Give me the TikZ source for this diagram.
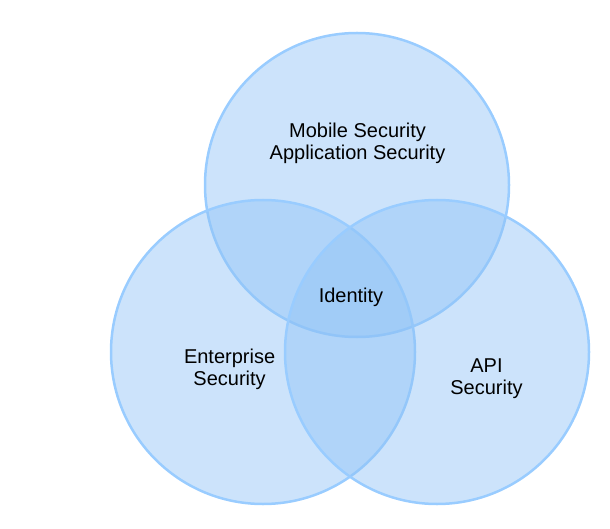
\documentclass[tikz,border=0pt]{standalone}
\usepackage{fontspec}
\setmainfont{Liberation Sans}
\definecolor{vfill}{RGB}{142,194,246}
\definecolor{vline}{RGB}{153,204,255}
\begin{document}
\begin{tikzpicture}[x=1pt,y=-1pt,
  venn/.style={circle,inner sep=0pt,minimum size=304pt,fill=vfill,fill opacity=0.45,draw=vline,line width=2.5pt},
  lbl/.style={font=\fontsize{20}{22}\selectfont,align=center,inner sep=0pt,text=black}]
\useasboundingbox (0,0) rectangle (610,529);
\node[venn] (top) at (357,185) {};
\node[venn] (left) at (263,352) {};
\node[venn] (right) at (437,352) {};
\node[lbl,anchor=north] (mob) at (357.5,123) {Mobile Security\\Application Security};
\node[lbl,anchor=base] (id) at (351,302.7) {Identity};
\node[lbl,anchor=north] (ent) at (229.6,349) {Enterprise\\Security};
\node[lbl,anchor=north] (api) at (486.5,359) {API\\Security};
\end{tikzpicture}
\end{document}
